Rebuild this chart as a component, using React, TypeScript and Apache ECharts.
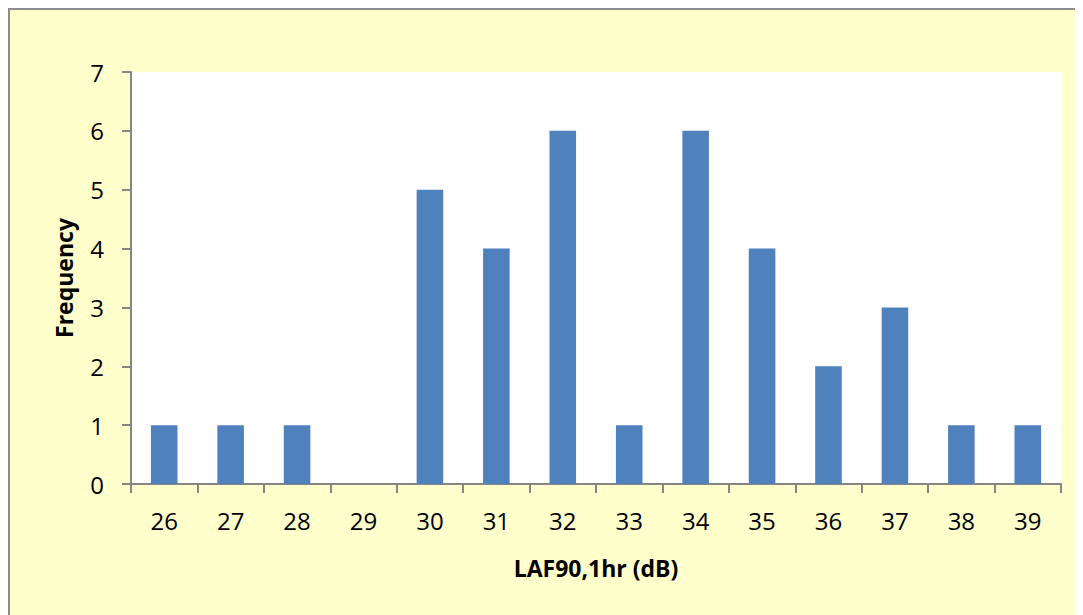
import React, { useEffect, useRef } from "react";
import * as echarts from "echarts";

const categories = ["26", "27", "28", "29", "30", "31", "32", "33", "34", "35", "36", "37", "38", "39"];
const frequency = [1, 1, 1, 0, 5, 4, 6, 1, 6, 4, 2, 3, 1, 1];
const yTicks = { min: 0, max: 7, interval: 1 };

export default function App() {
  const ref = useRef<HTMLDivElement>(null);
  useEffect(() => {
    if (!ref.current) return;
    const chart = echarts.init(ref.current, undefined, { renderer: "svg" });
    const font = "'Open Sans', 'Noto Sans', sans-serif";
    chart.setOption({
      animation: false,
      backgroundColor: "transparent",
      grid: { left: 121, top: 62, width: 930, height: 412, backgroundColor: "#ffffff", show: true, borderWidth: 0 },
      xAxis: {
        type: "category",
        data: categories,
        name: "LAF90,1hr (dB)",
        nameLocation: "middle",
        nameGap: 72,
        nameTextStyle: { fontFamily: font, fontSize: 23, fontWeight: "bold", color: "#000" },
        axisLine: { lineStyle: { color: "#868686", width: 2 } },
        axisTick: { show: true, length: 9, interval: 0, lineStyle: { color: "#868686", width: 2 } },
        axisLabel: { fontFamily: font, fontSize: 24, color: "#000", margin: 24, interval: 0 },
        splitLine: { show: false },
      },
      yAxis: {
        type: "value",
        min: yTicks.min,
        max: yTicks.max,
        interval: yTicks.interval,
        name: "Frequency",
        nameLocation: "middle",
        nameGap: 56,
        nameRotate: 90,
        nameTextStyle: { fontFamily: font, fontSize: 23, fontWeight: "bold", color: "#000" },
        axisLine: { show: true, lineStyle: { color: "#868686", width: 2 } },
        axisTick: { show: true, length: 9, lineStyle: { color: "#868686", width: 2 } },
        axisLabel: { fontFamily: font, fontSize: 24, color: "#000", margin: 27 },
        splitLine: { show: false },
      },
      series: [
        {
          type: "bar",
          data: frequency,
          barWidth: "40%",
          itemStyle: { color: "#4F81BD", borderWidth: 0 },
        },
      ],
    });
    return () => chart.dispose();
  }, []);
  return (
    <div
      style={{
        width: 1075,
        height: 607,
        boxSizing: "border-box",
        background: "#FFFFCC",
        borderTop: "2px solid #8c8c8c",
        borderLeft: "2px solid #8c8c8c",
        overflow: "hidden",
      }}
    >
      <div ref={ref} style={{ width: 1073, height: 605 }} />
    </div>
  );
}
